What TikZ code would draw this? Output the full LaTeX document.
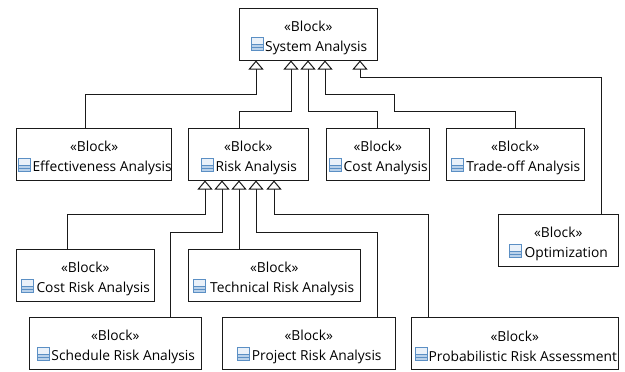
\documentclass[tikz,border=0pt]{standalone}
\usepackage{fontspec}
\setmainfont{Open Sans}
\usetikzlibrary{arrows.meta}
\definecolor{edge}{HTML}{1A1A1A}
\definecolor{iconblue}{HTML}{5B8FC4}
\definecolor{iconfill}{HTML}{EAF1F9}
\definecolor{iconband}{HTML}{B9D1EA}
\tikzset{
  x=1pt,y=-1pt,
  block/.style={draw=edge,line width=1pt,fill=white,inner sep=0pt,align=center,font=\fontsize{13.8}{20}\selectfont},
  gen/.style={draw=edge,line width=1pt,-{Triangle[open,length=9pt,width=15pt,fill=white]}},
  blockicon/.pic={
    \fill[iconfill] (0,0) rectangle (12,13);
    \fill[iconband] (0,7) rectangle (12,13);
    \draw[iconblue,line width=.8pt] (0,0) rectangle (12,13) (0,7)--(12,7) (0,10)--(12,10);
  }
}
\newcommand{\blk}[5]{% name, x1, y1, x2, label
  \node[block,minimum width={(#4-#2-0.5)*1pt},minimum height=51.5pt,anchor=north west] (#1) at (#2,#3) {\rule{0pt}{17pt}«Block»\\\hspace*{16pt}#5};
}
\begin{document}
\begin{tikzpicture}
\useasboundingbox (0,0) rectangle (625,372);
\blk{sys}{239}{8}{377}{System Analysis}
\blk{eff}{16}{128}{171}{Effectiveness Analysis}
\blk{risk}{188}{128}{308}{Risk Analysis}
\blk{cost}{326}{128}{429}{Cost Analysis}
\blk{trade}{446}{128}{584}{Trade-off Analysis}
\blk{opt}{498}{214}{618}{Optimization}
\blk{crisk}{16}{249}{154}{Cost Risk Analysis}
\blk{tech}{188}{249}{360}{Technical Risk Analysis}
\blk{sched}{29}{317}{201}{Schedule Risk Analysis}
\blk{proj}{222}{317}{395}{Project Risk Analysis}
\blk{prob}{411}{317}{618}{Probabilistic Risk Assessment}
\foreach \x/\y in {251/37,18/158,201/158,329/158,451/158,509/244,21/279,193/279,37/347,237/347,415/347}
  \pic at (\x,\y) {blockicon};
\draw[gen] (eff.north -| 85,0) |- (256,94) -- (sys.south -| 256,0);
\draw[gen] (risk.north -| 239,0) |- (291,111) -- (sys.south -| 291,0);
\draw[gen] (cost.north -| 377,0) |- (308,111) -- (sys.south -| 308,0);
\draw[gen] (trade.north -| 515,0) |- (394,111) |- (325,94) -- (sys.south -| 325,0);
\draw[gen] (opt.north -| 601,0) |- (360,77) -- (sys.south -| 360,0);
\draw[gen] (crisk.north -| 67,0) |- (205,214) -- (risk.south -| 205,0);
\draw[gen] (sched.north -| 170,0) |- (222,232) -- (risk.south -| 222,0);
\draw[gen] (tech.north -| 239,0) -- (risk.south -| 239,0);
\draw[gen] (proj.north -| 377,0) |- (256,232) -- (risk.south -| 256,0);
\draw[gen] (prob.north -| 428,0) |- (274,214) -- (risk.south -| 274,0);
\end{tikzpicture}
\end{document}
